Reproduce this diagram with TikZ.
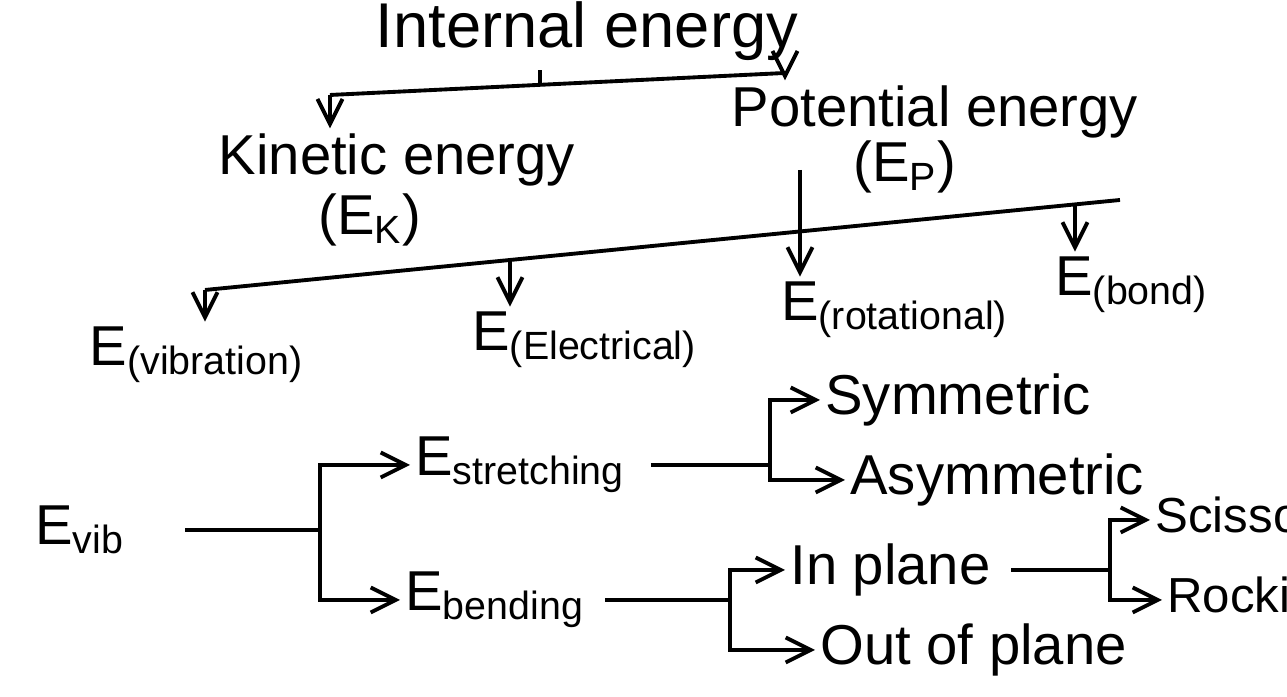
\documentclass[tikz,border=0pt]{standalone}
\usepackage{fontspec}
\setmainfont{Liberation Sans}
\usetikzlibrary{arrows.meta}

\begin{document}
\begin{tikzpicture}[line width=1.1pt, >={Straight Barb[length=2.5mm,width=2.5mm]},
    lbl/.style={inner sep=1pt, font=\fontsize{16}{19}\selectfont},
    leaf/.style={lbl, anchor=west}]
  \useasboundingbox (0,0) rectangle (12.87,6.97);
  % top level
  \node[lbl, font=\fontsize{18}{21}\selectfont] (ie) at (5.87,6.66) {Internal energy};
  \node[lbl] (ke) at (3.97,5.37) {Kinetic energy};
  \node[lbl] (ek) at (3.70,4.77) {(E\textsubscript{K})};
  \node[lbl] (pe) at (9.35,5.85) {Potential energy};
  \node[lbl] (ep) at (9.05,5.30) {(E\textsubscript{P})};
  \coordinate (tl) at (3.30,6.02);
  \coordinate (tr) at (7.85,6.24);
  \coordinate (tm) at (5.40,6.12);
  \draw (tl) -- (tr);
  \draw (tm) -- ++(0,0.15);
  \draw[->] (tl) -- (tl |- ke.north);
  \draw[->] (tr) -- (tr |- pe.north);
  % kinds of energy
  \node[lbl] (ev) at (1.97,3.42) {E\textsubscript{(vibration)}};
  \node[lbl] (el) at (5.85,3.57) {E\textsubscript{(Electrical)}};
  \node[lbl] (er) at (8.95,3.87) {E\textsubscript{(rotational)}};
  \node[lbl] (eb) at (11.32,4.12) {E\textsubscript{(bond)}};
  \coordinate (bl) at (2.05,4.07);
  \coordinate (br) at (11.20,4.97);
  \coordinate (bv) at (5.10,4.37);
  \coordinate (bb) at (10.75,4.92);
  \coordinate (rt) at (8.00,5.27);
  \draw (bl) -- (br);
  \draw[->] (rt) -- (rt |- er.north);
  \draw[->] (bl) -- (bl |- ev.north);
  \draw[->] (bv) -- (bv |- el.north);
  \draw[->] (bb) -- (bb |- eb.north);
  % vibrational energy
  \node[lbl] (evib) at (0.80,1.67) {E\textsubscript{vib}};
  \node[leaf] (est) at (4.10,2.32) {E\textsubscript{stretching}};
  \node[leaf] (ebe) at (4.00,0.97) {E\textsubscript{bending}};
  \node[leaf] (sym) at (8.20,2.97) {Symmetric};
  \node[leaf] (asym) at (8.45,2.17) {Asymmetric};
  \node[leaf] (inp) at (7.85,1.27) {In plane};
  \node[leaf] (outp) at (8.15,0.47) {Out of plane};
  \node[leaf, font=\fontsize{14}{17}\selectfont] (sci) at (11.50,1.77) {Scissoring};
  \node[leaf, font=\fontsize{14}{17}\selectfont] (rock) at (11.62,0.97) {Rocking};
  \coordinate (j1) at (3.20,1.67);
  \coordinate (j2) at (7.70,2.32);
  \coordinate (j3) at (7.30,0.97);
  \coordinate (j4) at (11.10,1.27);
  \draw (evib.east) ++(0.55,0) -- (j1);
  \draw[->] (j1) |- (est.west);
  \draw[->] (j1) |- (ebe.west);
  \draw (est.east) ++(0.2,0) -- (j2);
  \draw[->] (j2) |- (sym.west);
  \draw[->] (j2) |- (asym.west);
  \draw (ebe.east) ++(0.15,0) -- (j3);
  \draw[->] (j3) |- (inp.west);
  \draw[->] (j3) |- (outp.west);
  \draw (inp.east) ++(0.15,0) -- (j4);
  \draw[->] (j4) |- (sci.west);
  \draw[->] (j4) |- (rock.west);
\end{tikzpicture}
\end{document}
